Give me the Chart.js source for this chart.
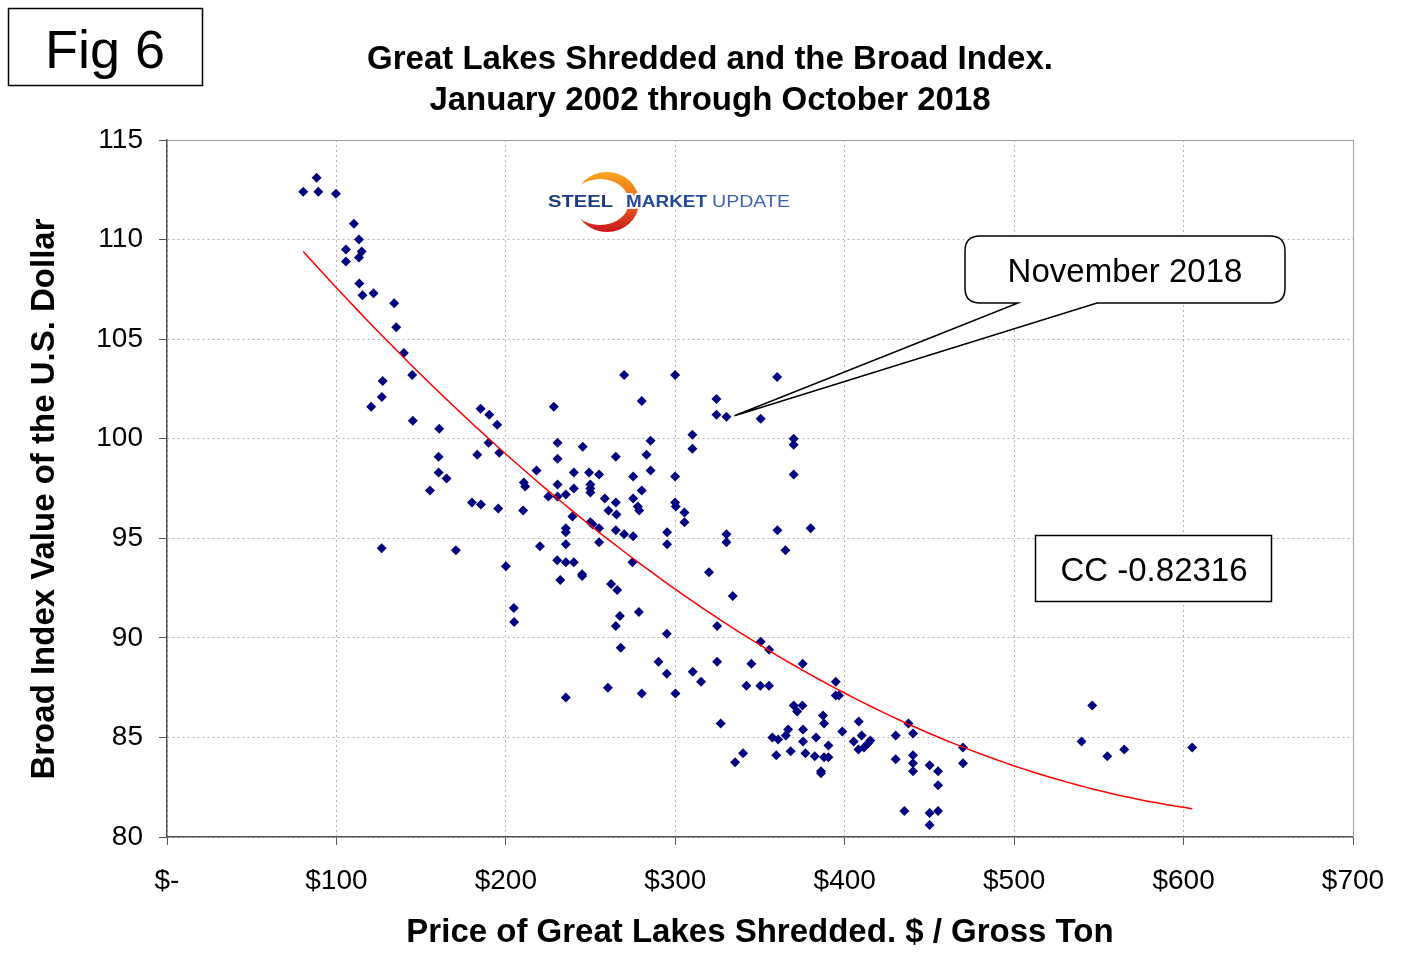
<!DOCTYPE html>
<html><head><meta charset="utf-8">
<script src="https://cdn.jsdelivr.net/npm/chart.js@4.4.0/dist/chart.umd.min.js"></script>
<style>html,body{margin:0;padding:0;background:#fff;}canvas{display:block;}</style>
</head><body>
<canvas id="c" width="1420" height="973" style="width:1420px;height:973px"></canvas>
<script>
// Price of Great Lakes Shredded ($ / gross ton), monthly
const shreddedPrice = [
 80.4,88.3,89.3,99.7,110.3,113.3,105.6,114.9,113.3,105.6,113.5,115.4,121.9,134.1,135.3,139.8,144.7,127.3,126.8,120.5,
 145.1,160.7,185.1,190.2,194.9,189.8,160.3,183.1,196.1,160.3,165.0,155.2,180.0,185.3,195.5,126.7,170.5,200.0,204.7,204.9,
 228.3,230.5,245.4,230.5,264.9,218.1,240.1,249.1,255.0,210.6,211.4,230.5,240.1,249.9,249.9,249.9,225.1,230.5,235.4,258.4,
 264.9,210.2,260.6,265.3,239.3,249.9,251.1,255.0,235.4,235.4,264.9,235.4,255.0,220.1,230.3,235.4,240.1,232.1,245.0,245.0,
 262.1,265.7,267.3,264.9,235.4,260.2,
 269.8,299.9,280.2,324.3,324.3,330.2,285.4,283.0,310.1,310.1,285.4,275.1,299.9,275.1,280.2,277.9,278.7,299.9,300.3,305.4,
 305.4,269.8,275.1,295.2,295.2,274.7,319.9,330.2,330.2,333.9,278.5,267.8,295.0,324.7,290.1,295.0,310.3,315.2,324.7,280.2,
 300.1,326.8,
 350.4,360.1,369.9,369.9,369.9,360.3,379.9,365.0,350.4,355.4,344.9,375.2,342.0,350.2,355.3,394.7,394.7,396.6,369.9,375.0,
 371.9,387.2,387.8,408.3,437.6,440.3,469.8,469.8,357.3,360.7,365.2,366.6,375.4,375.4,383.1,390.4,398.6,405.3,410.0,408.1,
 411.4,413.7,415.1,430.1,359.6,368.1,376.8,382.3,387.8,390.4,386.0,386.0,340.0,335.3,430.1,440.3,440.3,440.3,450.1,455.1,
 455.1,435.2,450.1,455.1,450.1,546.1,539.8,555.0,565.0,605.1
];
// Broad Index value of the U.S. Dollar, same months
const broadIndex = [
 112.4,113.1,112.4,112.3,110.8,110.0,109.5,109.4,109.1,108.9,107.8,107.2,107.3,106.8,105.6,104.3,103.2,102.9,102.1,101.6,
 100.9,100.5,101.5,101.2,100.7,99.8,99.1,99.2,99.3,98.3,98.0,97.4,96.8,96.7,96.5,94.5,94.4,93.6,91.5,90.8,
 101.6,99.8,99.6,99.0,99.1,98.4,98.3,98.3,98.2,97.8,97.6,97.7,97.5,97.7,97.5,97.3,97.1,97.1,97.2,97.0,
 96.8,96.4,96.4,96.2,96.1,95.8,95.7,95.5,95.5,95.3,95.4,94.7,94.8,94.6,93.9,93.8,93.8,92.9,93.2,93.1,
 92.7,92.4,91.1,90.6,87.0,87.5,
 103.2,103.2,101.9,102.0,101.2,101.1,99.9,99.2,100.2,99.5,98.4,98.1,98.1,97.0,97.4,96.6,96.4,96.8,96.6,96.3,
 95.8,95.2,95.1,95.3,94.7,93.8,93.3,95.2,94.8,92.1,91.3,89.5,90.2,90.6,88.8,88.2,88.3,87.8,88.8,87.2,
 87.2,85.7,
 101.0,103.1,100.0,99.7,98.2,95.4,95.5,94.4,89.8,89.4,88.7,88.7,87.6,87.6,87.6,87.8,87.1,87.1,86.6,86.6,
 86.3,86.1,85.7,85.8,85.7,85.2,84.5,83.7,85.0,84.9,85.1,85.4,85.4,84.8,85.0,84.6,85.3,84.8,85.1,84.4,
 84.5,84.7,84.85,85.1,84.1,84.3,84.2,84.05,84.0,84.0,83.3,83.2,84.2,83.75,83.9,84.1,83.7,83.3,83.6,83.3,
 82.6,81.3,81.2,81.3,80.6,86.6,84.8,84.05,84.4,84.5
];
const xTickLabels = ['$-','$100','$200','$300','$400','$500','$600','$700'];
const chartTitle = ['Great Lakes Shredded and the Broad Index.','January 2002 through October 2018'];
const figLabel = 'Fig 6';
const xAxisTitle = 'Price of Great Lakes Shredded. $ / Gross Ton';
const yAxisTitle = 'Broad Index Value of the U.S. Dollar';
const calloutText = 'November 2018';
const calloutPoint = [330.2, 101.1];
const ccText = 'CC -0.82316';
const logoWords = ['STEEL','MARKET','UPDATE'];

const FONT = '"Liberation Sans", Arial, Helvetica, sans-serif';
Chart.defaults.font.family = FONT;

// second-order polynomial trendline (least squares) computed from the data
function quadFit(xs, ys) {
  const s = [0,0,0,0,0], t = [0,0,0];
  for (let i = 0; i < xs.length; i++) {
    const u = xs[i] / 100, y = ys[i];
    let p = 1;
    for (let k = 0; k < 5; k++) { s[k] += p; if (k < 3) t[k] += p * y; p *= u; }
  }
  const A = [[s[0],s[1],s[2],t[0]],[s[1],s[2],s[3],t[1]],[s[2],s[3],s[4],t[2]]];
  for (let i = 0; i < 3; i++) {
    for (let j = i + 1; j < 3; j++) {
      const f = A[j][i] / A[i][i];
      for (let k = i; k < 4; k++) A[j][k] -= f * A[i][k];
    }
  }
  const c = [0,0,0];
  for (let i = 2; i >= 0; i--) {
    let v = A[i][3];
    for (let k = i + 1; k < 3; k++) v -= A[i][k] * c[k];
    c[i] = v / A[i][i];
  }
  return x => { const u = x / 100; return c[0] + c[1] * u + c[2] * u * u; };
}
const trendFn = quadFit(shreddedPrice, broadIndex);
const xMin = Math.min(...shreddedPrice), xMax = Math.max(...shreddedPrice);
const trendData = [];
for (let i = 0; i <= 100; i++) {
  const x = xMin + (xMax - xMin) * i / 100;
  trendData.push({x, y: trendFn(x)});
}
const scatterData = shreddedPrice.map((x, i) => ({x, y: broadIndex[i]}));

function drawWord(ctx, text, weight, x, w, color) {
  ctx.save();
  ctx.font = weight + ' 16.5px ' + FONT;
  const m = ctx.measureText(text).width;
  ctx.translate(x, 207);
  ctx.scale(w / m, 1);
  ctx.textBaseline = 'alphabetic';
  ctx.textAlign = 'left';
  ctx.lineJoin = 'round';
  ctx.strokeStyle = '#fff';
  ctx.lineWidth = 4;
  ctx.strokeText(text, 0, 0);
  ctx.fillStyle = color;
  ctx.fillText(text, 0, 0);
  ctx.restore();
}

function drawLogo(ctx) {
  ctx.save();
  ctx.beginPath();
  ctx.ellipse(607, 202, 32, 30, 0, 0, Math.PI * 2);
  ctx.clip();
  const g = ctx.createLinearGradient(0, 172, 0, 232);
  g.addColorStop(0, '#f7a81e');
  g.addColorStop(0.45, '#ef6b1f');
  g.addColorStop(1, '#c8161d');
  ctx.fillStyle = g;
  ctx.beginPath();
  ctx.rect(560, 160, 100, 90);
  ctx.ellipse(600, 202, 29, 23, 0, 0, Math.PI * 2, true);
  ctx.fill('evenodd');
  ctx.restore();
  drawWord(ctx, logoWords[0], 'bold', 548, 65, '#1b3a82');
  drawWord(ctx, logoWords[1], 'bold', 626, 81, '#234a9c');
  drawWord(ctx, logoWords[2], 'normal', 712, 78, '#3f64b2');
}

const overlay = {
  id: 'overlay',
  beforeDatasetsDraw(chart) {
    const {ctx, chartArea: a} = chart;
    ctx.save();
    ctx.strokeStyle = '#a0a0a0';
    ctx.lineWidth = 1;
    ctx.beginPath();
    ctx.moveTo(a.left, a.top + 0.5);
    ctx.lineTo(a.right + 0.5, a.top + 0.5);
    ctx.lineTo(a.right + 0.5, a.bottom);
    ctx.stroke();
    ctx.restore();
    drawLogo(ctx);
  },
  afterDraw(chart) {
    const ctx = chart.ctx;
    ctx.save();
    // Fig box
    ctx.strokeStyle = '#000';
    ctx.lineWidth = 1.5;
    ctx.strokeRect(8.5, 8.5, 194, 77);
    ctx.fillStyle = '#000';
    ctx.textAlign = 'center';
    ctx.textBaseline = 'alphabetic';
    ctx.font = '54px ' + FONT;
    ctx.fillText(figLabel, 105, 68);
    // Title
    ctx.font = 'bold 33px ' + FONT;
    ctx.fillText(chartTitle[0], 710, 69);
    ctx.fillText(chartTitle[1], 710, 110);
    // Callout bubble
    const xs = chart.scales.x, ys = chart.scales.y;
    const tx = xs.getPixelForValue(calloutPoint[0]) + 8;
    const ty = ys.getPixelForValue(calloutPoint[1]) - 1;
    const x0 = 965, y0 = 236, x1 = 1285, y1 = 303, r = 15;
    ctx.beginPath();
    ctx.moveTo(x0 + r, y0);
    ctx.lineTo(x1 - r, y0);
    ctx.quadraticCurveTo(x1, y0, x1, y0 + r);
    ctx.lineTo(x1, y1 - r);
    ctx.quadraticCurveTo(x1, y1, x1 - r, y1);
    ctx.lineTo(1097, y1);
    ctx.lineTo(tx, ty);
    ctx.lineTo(1018, y1);
    ctx.lineTo(x0 + r, y1);
    ctx.quadraticCurveTo(x0, y1, x0, y1 - r);
    ctx.lineTo(x0, y0 + r);
    ctx.quadraticCurveTo(x0, y0, x0 + r, y0);
    ctx.closePath();
    ctx.fillStyle = '#fff';
    ctx.fill();
    ctx.lineWidth = 1.5;
    ctx.strokeStyle = '#000';
    ctx.stroke();
    ctx.fillStyle = '#000';
    ctx.font = '33px ' + FONT;
    ctx.fillText(calloutText, 1125, 282);
    // CC box
    ctx.fillStyle = '#fff';
    ctx.fillRect(1035, 535, 237, 67);
    ctx.strokeRect(1035.5, 535.5, 236, 66);
    ctx.fillStyle = '#000';
    ctx.fillText(ccText, 1154, 581);
    // Y axis title (placed to match the reference's offset along the axis)
    ctx.save();
    ctx.translate(45, 499);
    ctx.rotate(-Math.PI / 2);
    ctx.font = 'bold 33px ' + FONT;
    ctx.textBaseline = 'middle';
    ctx.fillText(yAxisTitle, 0, 0);
    ctx.restore();
    ctx.restore();
  }
};

const gridOpts = {color: '#b4b4b4', lineWidth: 1, tickLength: 8, tickColor: '#555', drawTicks: true};
const borderOpts = {display: true, color: '#555', width: 1.5, dash: [2, 3]};

new Chart(document.getElementById('c'), {
  type: 'scatter',
  data: {
    datasets: [
      {label: 'Trend', data: trendData, showLine: true, pointRadius: 0, borderColor: '#ff0000',
       backgroundColor: '#ff0000', borderWidth: 1.5, tension: 0, order: 0},
      {label: 'Monthly', data: scatterData, pointStyle: 'rectRot', pointRadius: 5,
       backgroundColor: '#000080', borderColor: '#000080', borderWidth: 0, order: 1}
    ]
  },
  options: {
    responsive: false,
    devicePixelRatio: 1,
    animation: false,
    events: [],
    layout: {padding: {top: 140, right: 67, bottom: 0, left: 0}},
    plugins: {legend: {display: false}, tooltip: {enabled: false}, title: {display: false}},
    scales: {
      x: {
        type: 'linear', min: 0, max: 700,
        ticks: {stepSize: 100, padding: 19, color: '#000', font: {size: 28}, maxRotation: 0, autoSkip: false,
                callback: v => xTickLabels[Math.round(v / 100)]},
        grid: gridOpts, border: borderOpts,
        title: {display: true, text: xAxisTitle, color: '#000', font: {size: 33, weight: 'bold'}, padding: {top: 0, bottom: 20}},
        afterFit: s => { s.height = 136; }
      },
      y: {
        type: 'linear', min: 80, max: 115,
        ticks: {stepSize: 5, padding: 16, color: '#000', font: {size: 28}},
        grid: gridOpts, border: borderOpts,
        title: {display: false, text: yAxisTitle},
        afterFit: s => { s.width = 167; }
      }
    }
  },
  plugins: [overlay]
});
</script>
</body></html>
